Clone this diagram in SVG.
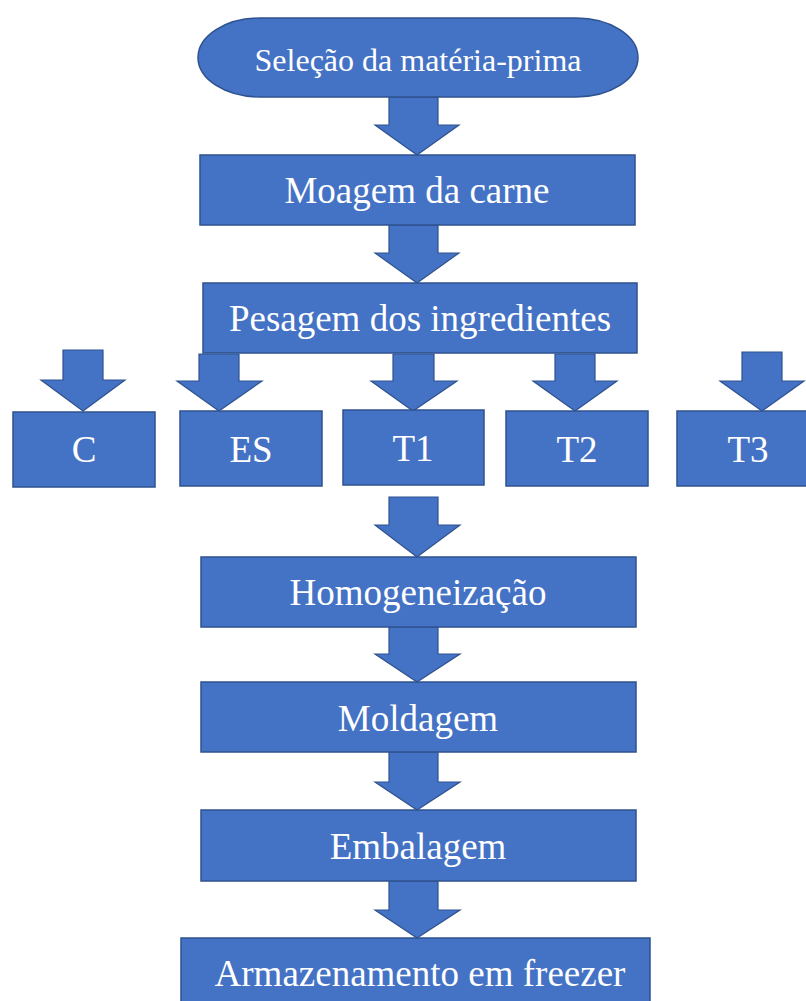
<svg xmlns="http://www.w3.org/2000/svg" width="806" height="1001" viewBox="0 0 806 1001">
<style>
.box{fill:#4472C4;stroke:#2F528F;stroke-width:1.5}
.arr{fill:#4472C4;stroke:#2F528F;stroke-width:1.2;stroke-linejoin:miter}
.t{font-family:"Liberation Serif","Times New Roman",serif;fill:#ffffff;text-anchor:middle;font-size:37px}
</style>
<rect width="806" height="1001" fill="#ffffff"/>
<g id="connectors">
<path class="arr" d="M389,97 H438 V125 H459 L417,155 L375,125 H389 Z"/>
<path class="arr" d="M389,225 H438 V253 H459 L417,283 L375,253 H389 Z"/>
<path class="arr" d="M63,350 H103 V380 H125 L83,411 L41,380 H63 Z"/>
<path class="arr" d="M199,354 H239 V381 H262 L219,411 L177,381 H199 Z"/>
<path class="arr" d="M393,354 H434 V381 H457 L413,411 L371,381 H393 Z"/>
<path class="arr" d="M555,354 H595 V381 H617 L575,411 L533,381 H555 Z"/>
<path class="arr" d="M742,352 H782 V381 H804 L762,411 L720,381 H742 Z"/>
<path class="arr" d="M389,497 H438 V525 H460 L417,557 L375,525 H389 Z"/>
<path class="arr" d="M389,627 H438 V654 H460 L417,682 L375,654 H389 Z"/>
<path class="arr" d="M389,752 H438 V782 H460 L417,810 L375,782 H389 Z"/>
<path class="arr" d="M389,881 H438 V910 H460 L417,938 L375,910 H389 Z"/>
</g>
<g id="selecao"><rect class="box" x="198" y="18" width="440" height="79" rx="62" ry="39.5"/><text class="t" x="418" y="71" style="font-size:32px">Seleção da matéria-prima</text></g>
<g id="moagem"><rect class="box" x="200" y="155" width="435" height="70"/><text class="t" x="417" y="203">Moagem da carne</text></g>
<g id="pesagem"><rect class="box" x="203" y="283" width="434" height="70"/><text class="t" x="420" y="331">Pesagem dos ingredientes</text></g>
<g id="c"><rect class="box" x="13" y="412" width="142" height="75"/><text class="t" x="84" y="462">C</text></g>
<g id="es"><rect class="box" x="180" y="411" width="142" height="75"/><text class="t" x="251" y="462">ES</text></g>
<g id="t1"><rect class="box" x="343" y="410" width="141" height="75"/><text class="t" x="413" y="461">T1</text></g>
<g id="t2"><rect class="box" x="506" y="411" width="142" height="75"/><text class="t" x="577" y="462">T2</text></g>
<g id="t3"><rect class="box" x="677" y="411" width="142" height="75"/><text class="t" x="748" y="462">T3</text></g>
<g id="homog"><rect class="box" x="201" y="557" width="435" height="70"/><text class="t" x="418" y="605">Homogeneização</text></g>
<g id="moldagem"><rect class="box" x="201" y="682" width="435" height="70"/><text class="t" x="418" y="731">Moldagem</text></g>
<g id="embalagem"><rect class="box" x="201" y="810" width="435" height="71"/><text class="t" x="418" y="859">Embalagem</text></g>
<g id="armazen"><rect class="box" x="181" y="938" width="469" height="70"/><text class="t" x="420" y="986">Armazenamento em freezer</text></g>
</svg>
